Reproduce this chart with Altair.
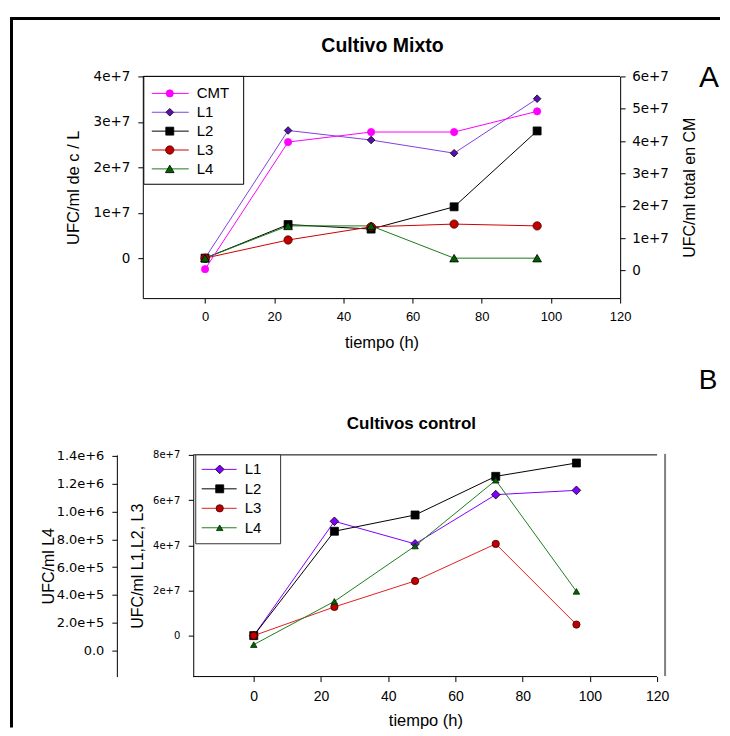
import altair as alt
import pandas as pd

# ---------------- data ----------------
times = [0, 24, 48, 72, 96]

# Panel A - Cultivo Mixto
a_names = ["CMT", "L1", "L2", "L3", "L4"]
a_cmt = [0.4e6, 3.97e7, 4.28e7, 4.28e7, 4.92e7]      # right axis
a_l1 = [0.0, 2.81e7, 2.60e7, 2.31e7, 3.51e7]         # left axis
a_l2 = [0.0, 0.74e7, 0.64e7, 1.13e7, 2.80e7]
a_l3 = [0.0, 0.40e7, 0.69e7, 0.75e7, 0.71e7]
a_l4 = [0.0, 0.71e7, 0.71e7, 0.0, 0.0]

# Panel B - Cultivos control
b_names = ["L1", "L2", "L3", "L4"]
b_l1 = [0.0, 5.06e7, 4.06e7, 6.24e7, 6.43e7]
b_l2 = [0.0, 4.62e7, 5.34e7, 7.05e7, 7.64e7]
b_l3 = [0.0, 1.27e7, 2.42e7, 4.06e7, 0.49e7]
b_l4 = [4.3e4, 3.54e5, 7.52e5, 1.225e6, 4.26e5]     # own (L4) axis

x_ticks = [0, 20, 40, 60, 80, 100, 120]
a_left_ticks = [0, 1e7, 2e7, 3e7, 4e7]
a_right_ticks = [0, 1e7, 2e7, 3e7, 4e7, 5e7, 6e7]
b_main_ticks = [0, 2e7, 4e7, 6e7, 8e7]
b_l4_ticks = [0, 2e5, 4e5, 6e5, 8e5, 1.0e6, 1.2e6, 1.4e6]


def long_table(names, arrays):
    rows = []
    for n, arr in zip(names, arrays):
        for t, v in zip(times, arr):
            rows.append({"t": t, "v": v, "serie": n})
    return pd.DataFrame(rows)


dfA_left = long_table(["L1", "L2", "L3", "L4"], [a_l1, a_l2, a_l3, a_l4])
dfA_right = long_table(["CMT"], [a_cmt])
dfB_main = long_table(["L1", "L2", "L3"], [b_l1, b_l2, b_l3])
dfB_l4 = long_table(["L4"], [b_l4])

# ---------------- styles ----------------
SANS = "Liberation Sans"
WIDE = "DejaVu Sans"
SHAPE = {"CMT": "circle", "L1": "diamond", "L2": "square", "L3": "circle", "L4": "triangle-up"}
SIZE = {"CMT": 52, "L1": 75, "L2": 42, "L3": 48, "L4": 58}
A_LINE = {"CMT": "#FF00FF", "L1": "#8040E0", "L2": "#000000", "L3": "#D00000", "L4": "#1A7A1A"}
A_FILL = {"CMT": "#FF00FF", "L1": "#5A10B0", "L2": "#000000", "L3": "#C00000", "L4": "#006000"}
A_EDGE = {"CMT": "#FF00FF", "L1": "#000000", "L2": "#000000", "L3": "#500000", "L4": "#000000"}
B_LINE = {"L1": "#8000FF", "L2": "#000000", "L3": "#E02020", "L4": "#1E7E1E"}
B_FILL = {"L1": "#8000FF", "L2": "#000000", "L3": "#C00000", "L4": "#006400"}
B_EDGE = {"L1": "#000000", "L2": "#000000", "L3": "#400000", "L4": "#002800"}

# both panels share the same left origin; panel B's x range starts 50.5 px further right
W_A, H_A = 478, 222
SHIFT_B = 50.5
W_B, H_B = 515, 222
PX_B = (W_B - SHIFT_B) / 138.0
GAP = 157          # vertical distance between the two plot areas
one = pd.DataFrame({"k": [0]})


def enc(names, line, fill, edge):
    return dict(
        color=alt.Color("serie:N", scale=alt.Scale(domain=names, range=[line[n] for n in names]), legend=None),
        fill=alt.Fill("serie:N", scale=alt.Scale(domain=names, range=[fill[n] for n in names]), legend=None),
        stroke=alt.Stroke("serie:N", scale=alt.Scale(domain=names, range=[edge[n] for n in names]), legend=None),
        shape=alt.Shape("serie:N", scale=alt.Scale(domain=names, range=[SHAPE[n] for n in names]), legend=None),
        size=alt.Size("serie:N", scale=alt.Scale(domain=names, range=[SIZE[n] for n in names]), legend=None),
    )


def series_layer(df, X, Y, e):
    lines = alt.Chart(df).mark_line(strokeWidth=1).encode(x=X, y=Y, color=e["color"])
    pts = alt.Chart(df).mark_point(filled=True, opacity=1, strokeWidth=0.8).encode(
        x=X, y=Y, fill=e["fill"], stroke=e["stroke"], shape=e["shape"], size=e["size"])
    return alt.layer(lines, pts)


def legend_layers(names, e, box, y0, step, x_line, x_pt, x_txt, box_color):
    ldf = pd.DataFrame({"serie": names, "ly": [y0 + i * step for i in range(len(names))]})
    LY = alt.Y("ly:Q", scale=None)
    bx = alt.Chart(one).mark_rect(fill="white", stroke=box_color, strokeWidth=1).encode(
        x=alt.value(box[0]), x2=alt.value(box[1]), y=alt.value(box[2]), y2=alt.value(box[3]))
    rl = alt.Chart(ldf).mark_rule(strokeWidth=1).encode(
        x=alt.value(x_line[0]), x2=alt.value(x_line[1]), y=LY, color=e["color"])
    pt = alt.Chart(ldf).mark_point(filled=True, opacity=1, strokeWidth=0.8).encode(
        x=alt.value(x_pt), y=LY, fill=e["fill"], stroke=e["stroke"], shape=e["shape"], size=e["size"])
    tx = alt.Chart(ldf).mark_text(align="left", baseline="middle", font=SANS, fontSize=15, color="black").encode(
        x=alt.value(x_txt), y=LY, text="serie:N")
    return [bx, rl, pt, tx]


def rule(x, y, x2=None, y2=None, color="black", width=1.0, cap="butt"):
    kw = dict(x=alt.value(x), y=alt.value(y))
    if x2 is not None:
        kw["x2"] = alt.value(x2)
    if y2 is not None:
        kw["y2"] = alt.value(y2)
    return alt.Chart(one).mark_rule(color=color, strokeWidth=width, strokeCap=cap).encode(**kw)


def label(txt, x, y, size, weight="normal", baseline="middle"):
    return alt.Chart(one).mark_text(text=txt, font=SANS, fontSize=size, fontWeight=weight,
                                    baseline=baseline, align="center", color="black").encode(
        x=alt.value(x), y=alt.value(y))


# ---------------- panel A ----------------
XA = alt.X("t:Q", scale=alt.Scale(domain=[-18, 120], nice=False, zero=False),
           axis=alt.Axis(values=x_ticks, format="d", title="tiempo (h)", labelFont=SANS, labelFontSize=13,
                         titleFontSize=16.5, labelPadding=7, titlePadding=11, labelFlush=False))
YA_left = alt.Y("v:Q", scale=alt.Scale(domain=[-8.79e6, 4e7], nice=False, zero=False),
                axis=alt.Axis(orient="left", values=a_left_ticks,
                              labelExpr="datum.value == 0 ? '0' : format(datum.value, '.0e')",
                              title="UFC/ml de c / L", labelFont=WIDE, labelFontSize=13.5,
                              labelPadding=8, titlePadding=12, titleFontSize=16.5))
YA_right = alt.Y("v:Q", scale=alt.Scale(domain=[-8.55e6, 6e7], nice=False, zero=False),
                 axis=alt.Axis(orient="right", values=a_right_ticks,
                               labelExpr="datum.value == 0 ? '0' : format(datum.value, '.0e')",
                               title="UFC/ml total en CM", labelFont=WIDE, labelFontSize=13.5,
                               labelPadding=6.5, titlePadding=13, titleFontSize=16,
                               titleAngle=270, titleBaseline="top"))
eA = enc(a_names, A_LINE, A_FILL, A_EDGE)

FRAME_SPLIT = H_A + 64   # where the outer frame's left edge passes from panel A to panel B

panelA = alt.layer(
    rule(-131.5, -58, y2=FRAME_SPLIT, width=3),
    rule(-133, -58, x2=578, width=3),
    rule(0, 0, x2=W_A, width=1),
    series_layer(dfA_left, XA, YA_left, eA),
    series_layer(dfA_right, XA, YA_right, eA),
    *legend_layers(a_names, eA, (1, 101, 0, 108), 17, 18.9, (9, 46), 27, 54, "black"),
    label("Cultivo Mixto", 240, -30, 19.5, weight="bold"),
    label("A", 567, 2, 30),
).resolve_scale(y="independent").properties(width=W_A, height=H_A)

# ---------------- panel B ----------------
x0_B = -18 - SHIFT_B / PX_B
XB = alt.X("t:Q", scale=alt.Scale(domain=[x0_B, 120], nice=False, zero=False),
           axis=alt.Axis(values=x_ticks, format="d", title="tiempo (h)", labelFont=SANS, labelFontSize=14,
                         titleFontSize=16.5, labelPadding=8, titlePadding=9, labelFlush=False,
                         domain=False, titleX=283))
YB_main = alt.Y("v:Q", scale=alt.Scale(domain=[-1.812e7, 8e7], nice=False, zero=False),
                axis=alt.Axis(orient="left", offset=-SHIFT_B, values=b_main_ticks,
                              labelExpr="datum.value == 0 ? '0' : format(datum.value, '.0e')",
                              title="UFC/ml L1,L2, L3", labelFont=WIDE, labelFontSize=10,
                              labelPadding=8.5, titlePadding=7, titleFontSize=16))
YB_l4 = alt.Y("v:Q", scale=alt.Scale(domain=[-1.866e5, 1.4072e6], nice=False, zero=False),
              axis=alt.Axis(orient="left", offset=76.5 - SHIFT_B, values=b_l4_ticks,
                            labelExpr="datum.value == 0 ? '0.0' : format(datum.value, '.1e')",
                            title="UFC/ml L4", labelFont=WIDE, labelFontSize=13,
                            labelPadding=8, titlePadding=0, titleFontSize=16))
eB = enc(b_names, B_LINE, B_FILL, B_EDGE)

S = SHIFT_B
panelB = alt.layer(
    rule(-131.5, FRAME_SPLIT - (H_A + GAP), y2=273, width=3),
    rule(S, 0, x2=W_B, width=1),
    rule(S, H_B, x2=W_B, width=1),
    rule(523, -1, y2=221.5, color="#808080", width=2),
    series_layer(dfB_main, XB, YB_main, eB),
    series_layer(dfB_l4, XB, YB_l4, eB),
    *legend_layers(b_names, eB, (S + 2.5, S + 87.5, 0, 89), 14.5, 19.5, (S + 8.5, S + 43.5), S + 26.5,
                   S + 51.5, "#333333"),
    label("Cultivos control", 269, -31, 17, weight="bold"),
    label("B", 566, -88, 28, baseline="top"),
).resolve_scale(y="independent").properties(width=W_B, height=H_B)

chart = alt.vconcat(panelA, panelB, spacing=GAP, bounds="flush").resolve_scale(
    color="independent", fill="independent", stroke="independent", shape="independent", size="independent"
).properties(
    padding={"left": 0, "top": 8, "right": 0, "bottom": 0}
).configure_view(stroke=None).configure_axis(
    grid=False, domainColor="black", tickColor="black", labelColor="black", titleColor="black",
    tickSize=5, domainWidth=1, tickWidth=1, titleFont=SANS, titleFontWeight="normal"
)

chart.save("out.html", embed_options={"renderer": "svg", "actions": False})
